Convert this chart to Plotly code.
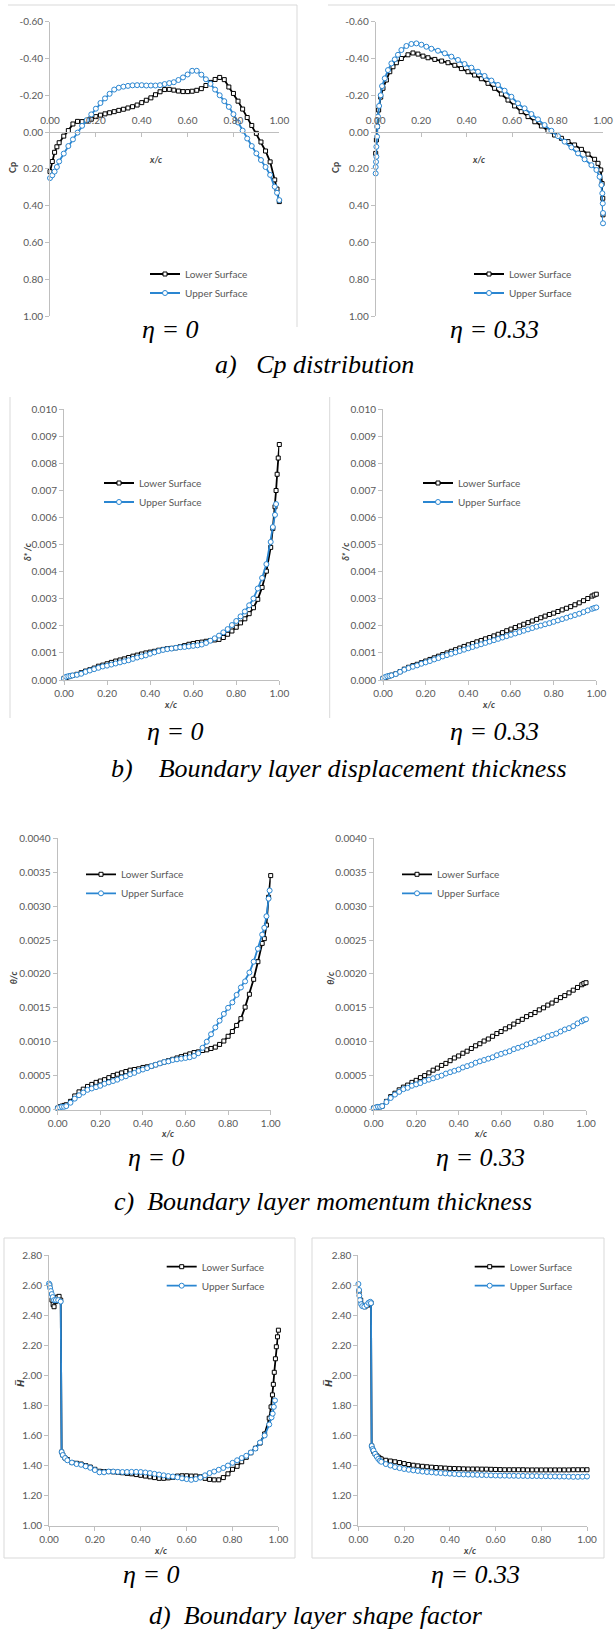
import plotly.graph_objects as go

W, H = 615, 1632

# ---------------- data ----------------
X_GRID = [0.00, 0.01, 0.02, 0.03, 0.04, 0.06, 0.08, 0.10, 0.12, 0.14,
          0.16, 0.18, 0.20, 0.22, 0.24, 0.26, 0.28, 0.30, 0.32, 0.34,
          0.36, 0.38, 0.40, 0.42, 0.44, 0.46, 0.48, 0.50, 0.52, 0.54,
          0.56, 0.58, 0.60, 0.62, 0.64, 0.66, 0.68, 0.70, 0.72, 0.74,
          0.76, 0.78, 0.80, 0.82, 0.84, 0.86, 0.88, 0.90, 0.92, 0.94,
          0.96, 0.98, 0.99, 1.00]
X_TO_096 = X_GRID[:51]
X_MID = X_GRID[7:51]            # 0.10 ... 0.96
X_MID_FULL = X_GRID[7:52] + [1.00]  # 0.10 ... 0.98, 1.00

X_TICKS = [0.0, 0.2, 0.4, 0.6, 0.8, 1.0]
X_TICK_TEXT = ["0.00", "0.20", "0.40", "0.60", "0.80", "1.00"]
CP_TICKS = [-0.6, -0.4, -0.2, 0.0, 0.2, 0.4, 0.6, 0.8, 1.0]
CP_TICK_TEXT = ["-0.60", "-0.40", "-0.20", "0.00", "0.20", "0.40", "0.60", "0.80", "1.00"]
DS_TICKS = [0.000, 0.001, 0.002, 0.003, 0.004, 0.005, 0.006, 0.007, 0.008, 0.009, 0.010]
DS_TICK_TEXT = ["0.000", "0.001", "0.002", "0.003", "0.004", "0.005", "0.006", "0.007", "0.008", "0.009", "0.010"]
TH_TICKS = [0.0, 0.0005, 0.0010, 0.0015, 0.0020, 0.0025, 0.0030, 0.0035, 0.0040]
TH_TICK_TEXT = ["0.0000", "0.0005", "0.0010", "0.0015", "0.0020", "0.0025", "0.0030", "0.0035", "0.0040"]
HF_TICKS = [1.0, 1.2, 1.4, 1.6, 1.8, 2.0, 2.2, 2.4, 2.6, 2.8]
HF_TICK_TEXT = ["1.00", "1.20", "1.40", "1.60", "1.80", "2.00", "2.20", "2.40", "2.60", "2.80"]

# a) Cp, eta = 0
cp0_lower = [0.215, 0.16, 0.11, 0.08, 0.058, 0.022, -0.008, -0.044, -0.058, -0.057,
             -0.06, -0.07, -0.084, -0.092, -0.099, -0.105, -0.111, -0.118, -0.124, -0.131,
             -0.138, -0.147, -0.16, -0.173, -0.186, -0.203, -0.219, -0.231, -0.232, -0.228,
             -0.223, -0.22, -0.22, -0.222, -0.227, -0.236, -0.253, -0.27, -0.286, -0.297,
             -0.285, -0.245, -0.21, -0.168, -0.125, -0.079, -0.036, 0.007, 0.054, 0.103,
             0.162, 0.26, 0.31, 0.378]
cp0_upper = [0.25, 0.235, 0.215, 0.19, 0.16, 0.117, 0.076, 0.04, 0.003, -0.034,
             -0.065, -0.096, -0.127, -0.158, -0.183, -0.208, -0.231, -0.241, -0.247, -0.251,
             -0.254, -0.255, -0.255, -0.253, -0.253, -0.253, -0.255, -0.261, -0.266, -0.271,
             -0.283, -0.297, -0.313, -0.333, -0.333, -0.312, -0.287, -0.262, -0.231, -0.2,
             -0.168, -0.137, -0.097, -0.052, -0.008, 0.035, 0.076, 0.116, 0.152, 0.19,
             0.233, 0.297, 0.33, 0.37]

# a) Cp, eta = 0.33
cp33_lower_x = [0.0, 0.003, 0.007, 0.013, 0.022, 0.032, 0.047, 0.062, 0.076, 0.091,
                0.113, 0.142, 0.164, 0.186, 0.208, 0.23, 0.26, 0.29, 0.318, 0.348,
                0.377, 0.406, 0.435, 0.465, 0.494, 0.523, 0.553, 0.582, 0.611, 0.64,
                0.67, 0.70, 0.729, 0.758, 0.787, 0.817, 0.846, 0.875, 0.905, 0.934,
                0.963, 0.978, 0.99, 0.996, 0.999, 1.0]
cp33_lower = [0.116, 0.043, -0.03, -0.12, -0.19, -0.238, -0.283, -0.328, -0.355, -0.377,
              -0.40, -0.42, -0.43, -0.424, -0.413, -0.404, -0.395, -0.386, -0.377, -0.363,
              -0.345, -0.328, -0.31, -0.29, -0.265, -0.238, -0.207, -0.174, -0.142, -0.111,
              -0.084, -0.056, -0.033, -0.007, 0.016, 0.034, 0.052, 0.07, 0.094, 0.12,
              0.148, 0.17, 0.206, 0.28, 0.36, 0.45]
cp33_upper_x = [0.0, 0.0, 0.0015, 0.003, 0.003, 0.006, 0.007, 0.010, 0.015, 0.022,
                0.028, 0.040, 0.054, 0.069, 0.084, 0.098, 0.113, 0.135, 0.157, 0.179,
                0.201, 0.223, 0.245, 0.274, 0.304, 0.333, 0.362, 0.391, 0.421, 0.45,
                0.479, 0.509, 0.538, 0.567, 0.597, 0.626, 0.655, 0.685, 0.714, 0.743,
                0.773, 0.802, 0.831, 0.861, 0.89, 0.919, 0.949, 0.971, 0.985, 0.993,
                0.997, 0.999, 1.0, 1.0]
cp33_upper = [0.225, 0.19, 0.162, 0.134, 0.08, 0.025, -0.03, -0.084, -0.142, -0.20,
              -0.25, -0.292, -0.337, -0.373, -0.395, -0.42, -0.446, -0.468, -0.479, -0.482,
              -0.475, -0.464, -0.453, -0.442, -0.428, -0.41, -0.392, -0.37, -0.35, -0.328,
              -0.305, -0.28, -0.256, -0.225, -0.192, -0.156, -0.129, -0.098, -0.069, -0.038,
              -0.007, 0.022, 0.052, 0.083, 0.116, 0.148, 0.18, 0.206, 0.243, 0.288,
              0.333, 0.388, 0.44, 0.496]

# b) displacement thickness, eta = 0
ds0_lower_x = X_TO_096 + [0.97, 0.98, 0.985, 0.99, 0.995, 1.00]
ds0_lower = [0.00006, 0.00009, 0.00012, 0.00015, 0.00017, 0.00021, 0.00027, 0.00033, 0.00038, 0.00044,
             0.00051, 0.00055, 0.00060, 0.00065, 0.00070, 0.00074, 0.00078, 0.00083, 0.00088, 0.00092,
             0.00096, 0.00100, 0.00103, 0.00106, 0.00110, 0.00113, 0.00116, 0.00117, 0.00119, 0.00123,
             0.00127, 0.00132, 0.00135, 0.00138, 0.00140, 0.00143, 0.00146, 0.00148, 0.00150, 0.00157,
             0.00169, 0.00181, 0.00195, 0.00211, 0.00226, 0.00245, 0.00267, 0.00298, 0.00342, 0.00402,
             0.00490, 0.0056, 0.0064, 0.0070, 0.0076, 0.0082, 0.0087]
ds0_upper_x = X_TO_096 + [0.97, 0.98, 0.985]
ds0_upper = [0.00006, 0.00012, 0.00014, 0.00015, 0.00017, 0.00019, 0.00023, 0.00030, 0.00035, 0.00040,
             0.00045, 0.00050, 0.00053, 0.00057, 0.00061, 0.00065, 0.00069, 0.00073, 0.00078, 0.00083,
             0.00087, 0.00091, 0.00097, 0.00102, 0.00107, 0.00111, 0.00114, 0.00116, 0.00119, 0.00121,
             0.00122, 0.00124, 0.00126, 0.00128, 0.00131, 0.00137, 0.00145, 0.00154, 0.00164, 0.00176,
             0.00188, 0.00203, 0.00218, 0.00235, 0.00253, 0.00276, 0.00301, 0.00338, 0.00377, 0.00428,
             0.00510, 0.00565, 0.0061, 0.0065]

# b) displacement thickness, eta = 0.33
ds33_lower = [0.00006, 0.00009, 0.00012, 0.00015, 0.00018, 0.00023, 0.00031, 0.00040, 0.00047, 0.00053,
              0.00058, 0.00064, 0.00070, 0.00076, 0.00082, 0.00088, 0.00094, 0.00100, 0.00106, 0.00112,
              0.00118, 0.00124, 0.00130, 0.00135, 0.00141, 0.00146, 0.00152, 0.00157, 0.00163, 0.00169,
              0.00175, 0.00182, 0.00188, 0.00194, 0.00200, 0.00206, 0.00212, 0.00218, 0.00224, 0.00230,
              0.00236, 0.00242, 0.00247, 0.00253, 0.00259, 0.00265, 0.00271, 0.00278, 0.00285, 0.00293,
              0.00301, 0.00310, 0.00314, 0.00317]
ds33_upper = [0.00006, 0.00011, 0.00014, 0.00015, 0.00017, 0.00022, 0.00030, 0.00038, 0.00044, 0.00049,
              0.00054, 0.00060, 0.00065, 0.00070, 0.00076, 0.00081, 0.00087, 0.00092, 0.00097, 0.00102,
              0.00107, 0.00112, 0.00117, 0.00122, 0.00127, 0.00132, 0.00137, 0.00142, 0.00147, 0.00152,
              0.00157, 0.00162, 0.00167, 0.00172, 0.00177, 0.00182, 0.00187, 0.00192, 0.00197, 0.00201,
              0.00206, 0.00210, 0.00215, 0.00220, 0.00225, 0.00230, 0.00235, 0.00240, 0.00245, 0.00251,
              0.00257, 0.00263, 0.00266, 0.00268]

# c) momentum thickness, eta = 0
th0_lower_x = X_TO_096 + [0.97, 0.98, 0.99, 1.00]
th0_lower = [0.00002, 0.00004, 0.00005, 0.00006, 0.00007, 0.00012, 0.00020, 0.00026, 0.00030, 0.00034,
             0.00037, 0.00040, 0.00042, 0.00044, 0.00047, 0.00050, 0.00052, 0.00054, 0.00056, 0.00058,
             0.00059, 0.00060, 0.00062, 0.00063, 0.00064, 0.00066, 0.00068, 0.00070, 0.00072, 0.00074,
             0.00076, 0.00078, 0.00080, 0.00082, 0.00084, 0.00085, 0.00087, 0.00088, 0.00090, 0.00092,
             0.00096, 0.00101, 0.00108, 0.00115, 0.00124, 0.00134, 0.00151, 0.00170, 0.00192, 0.00218,
             0.00245, 0.00252, 0.00272, 0.00313, 0.00345]
th0_upper_x = X_TO_096 + [0.97, 0.98, 0.99, 0.995]
th0_upper = [0.00002, 0.00003, 0.00004, 0.00004, 0.00005, 0.00010, 0.00016, 0.00021, 0.00025, 0.00029,
             0.00031, 0.00033, 0.00035, 0.00038, 0.00040, 0.00042, 0.00044, 0.00047, 0.00049, 0.00052,
             0.00054, 0.00057, 0.00059, 0.00061, 0.00064, 0.00066, 0.00068, 0.00070, 0.00071, 0.00073,
             0.00074, 0.00075, 0.00076, 0.00077, 0.00079, 0.00083, 0.00091, 0.00100, 0.00111, 0.00121,
             0.00131, 0.00141, 0.00150, 0.00158, 0.00169, 0.00180, 0.00189, 0.00202, 0.00218, 0.00237,
             0.00258, 0.00268, 0.00285, 0.00311, 0.00323]

# c) momentum thickness, eta = 0.33
th33_lower = [0.00002, 0.00003, 0.00004, 0.00004, 0.00005, 0.00012, 0.00019, 0.00024, 0.00029, 0.00033,
              0.00036, 0.00040, 0.00043, 0.00047, 0.00050, 0.00054, 0.00058, 0.00061, 0.00065, 0.00068,
              0.00072, 0.00076, 0.00079, 0.00083, 0.00086, 0.00090, 0.00094, 0.00097, 0.00101, 0.00104,
              0.00108, 0.00112, 0.00115, 0.00119, 0.00122, 0.00126, 0.00130, 0.00133, 0.00137, 0.00140,
              0.00143, 0.00147, 0.00150, 0.00154, 0.00157, 0.00161, 0.00165, 0.00168, 0.00172, 0.00176,
              0.00180, 0.00184, 0.00186, 0.00187]
th33_upper = [0.00002, 0.00003, 0.00004, 0.00004, 0.00005, 0.00011, 0.00017, 0.00022, 0.00026, 0.00030,
              0.00032, 0.00035, 0.00037, 0.00039, 0.00042, 0.00044, 0.00046, 0.00048, 0.00050, 0.00053,
              0.00055, 0.00057, 0.00059, 0.00062, 0.00064, 0.00066, 0.00069, 0.00071, 0.00073, 0.00075,
              0.00077, 0.00080, 0.00082, 0.00084, 0.00086, 0.00089, 0.00091, 0.00093, 0.00096, 0.00098,
              0.00100, 0.00103, 0.00105, 0.00108, 0.00110, 0.00112, 0.00115, 0.00118, 0.00120, 0.00123,
              0.00127, 0.00130, 0.00132, 0.00133]

# d) shape factor, eta = 0
hf0_lower_x = [0.003, 0.008, 0.013, 0.018, 0.022, 0.028, 0.036, 0.044, 0.051, 0.055, 0.06, 0.07, 0.08] \
    + X_MID + [0.968, 0.974, 0.978, 0.982, 0.987, 0.991, 0.996, 1.0]
hf0_lower = [2.6, 2.55, 2.5, 2.47, 2.456, 2.49, 2.52, 2.525, 2.5, 1.49, 1.47, 1.45, 1.44,
             1.42, 1.415, 1.41, 1.40, 1.39, 1.375, 1.362, 1.36, 1.36, 1.358,
             1.355, 1.352, 1.348, 1.345, 1.34, 1.335, 1.33, 1.325, 1.32, 1.315,
             1.315, 1.318, 1.322, 1.33, 1.332, 1.332, 1.33, 1.33, 1.325, 1.315,
             1.308, 1.305, 1.305, 1.32, 1.345, 1.375, 1.395, 1.425, 1.455, 1.485,
             1.515, 1.55, 1.61, 1.715,
             1.79, 1.87, 1.94, 2.02, 2.11, 2.19, 2.256, 2.30]
hf0_upper_x = [0.0, 0.002, 0.005, 0.008, 0.012, 0.016, 0.022, 0.03, 0.04, 0.051, 0.055, 0.06, 0.07, 0.08] \
    + X_MID + [0.97, 0.975, 0.98, 0.985]
hf0_upper = [2.61, 2.6, 2.58, 2.56, 2.54, 2.52, 2.5, 2.5, 2.5, 2.49, 1.49, 1.47, 1.45, 1.435,
             1.42, 1.41, 1.405, 1.395, 1.385, 1.37, 1.355, 1.355, 1.36, 1.36,
             1.358, 1.357, 1.357, 1.358, 1.358, 1.357, 1.354, 1.35, 1.345, 1.34,
             1.335, 1.33, 1.327, 1.322, 1.315, 1.31, 1.305, 1.31, 1.32, 1.335,
             1.35, 1.36, 1.372, 1.384, 1.40, 1.418, 1.435, 1.45, 1.465, 1.487,
             1.513, 1.553, 1.60, 1.673,
             1.72, 1.745, 1.79, 1.833]

# d) shape factor, eta = 0.33
hf33_lower_x = [0.003, 0.010, 0.017, 0.029, 0.041, 0.051, 0.055, 0.058, 0.062, 0.066, 0.073, 0.08, 0.087, 0.094] \
    + X_MID_FULL
hf33_lower = [2.556, 2.5, 2.467, 2.456, 2.467, 2.482, 2.482, 1.53, 1.51, 1.495, 1.478, 1.465, 1.456, 1.448,
              1.444, 1.435, 1.43, 1.425, 1.42, 1.413, 1.407, 1.402, 1.398, 1.395,
              1.392, 1.389, 1.387, 1.385, 1.383, 1.381, 1.38, 1.379, 1.378, 1.377,
              1.377, 1.377, 1.376, 1.376, 1.375, 1.374, 1.373, 1.372, 1.372, 1.372,
              1.372, 1.372, 1.371, 1.371, 1.371, 1.371, 1.371, 1.371, 1.371, 1.371,
              1.371, 1.371, 1.372, 1.372, 1.372, 1.372]
hf33_upper_x = [0.0, 0.003, 0.004, 0.007, 0.012, 0.017, 0.026, 0.036, 0.044, 0.052, 0.055,
                0.058, 0.062, 0.066, 0.073, 0.08, 0.087, 0.094] + X_MID_FULL
hf33_upper = [2.607, 2.567, 2.53, 2.5, 2.473, 2.46, 2.456, 2.467, 2.482, 2.489, 2.48,
              1.53, 1.51, 1.5, 1.478, 1.46, 1.444, 1.432,
              1.425, 1.41, 1.40, 1.39, 1.383, 1.377, 1.372, 1.368, 1.364, 1.36,
              1.357, 1.355, 1.352, 1.35, 1.348, 1.346, 1.344, 1.342, 1.341, 1.34,
              1.339, 1.338, 1.337, 1.336, 1.335, 1.334, 1.333, 1.333, 1.332, 1.332,
              1.331, 1.331, 1.33, 1.33, 1.33, 1.329, 1.329, 1.328, 1.328, 1.327,
              1.327, 1.326, 1.325, 1.325, 1.326, 1.327]

SERIES_NAMES = ["Lower Surface", "Upper Surface"]

# ---------------- layout helpers ----------------
def px(v):
    return v / W


def py(v):
    return 1 - v / H


AX = "#BFBFBF"
TICKFONT = dict(family="Lato, Carlito, Calibri, sans-serif", size=10, color="#595959")
LEGFONT = dict(family="Lato, Carlito, Calibri, sans-serif", size=10, color="#595959")
TITLEFONT = dict(family="Lato, Carlito, Calibri, sans-serif", size=9, color="#404040")
SERIF = dict(family="Liberation Serif, Times New Roman, serif", size=26, color="#000000")

LOWER_STYLE = dict(mode="lines+markers", line=dict(color="#000000", width=1.8),
                   marker=dict(symbol="square", size=4, color="#FFFFFF",
                               line=dict(color="#000000", width=1)))
UPPER_STYLE = dict(mode="lines+markers", line=dict(color="#2A86D1", width=1.8),
                   marker=dict(symbol="circle", size=5, color="#FFFFFF",
                               line=dict(color="#2A86D1", width=1)))

# pixel geometry of each panel: x0/x1 = pixel of x=0 / x=1; yt/yb = pixel of top/bottom of range
panels = [
    dict(x0=50, x1=279.3, yt=21.7, yb=316, rng=[1.0, -0.6], tv=CP_TICKS, tt=CP_TICK_TEXT,
         lx=X_GRID, ly=cp0_lower, ux=X_GRID, uy=cp0_upper, leg=(185, 274), cp=True),
    dict(x0=375.7, x1=603, yt=21.7, yb=316, rng=[1.0, -0.6], tv=CP_TICKS, tt=CP_TICK_TEXT,
         lx=cp33_lower_x, ly=cp33_lower, ux=cp33_upper_x, uy=cp33_upper, leg=(509, 274), cp=True),
    dict(x0=64, x1=279.3, yt=409.3, yb=680, rng=[0, 0.010], tv=DS_TICKS, tt=DS_TICK_TEXT,
         lx=ds0_lower_x, ly=ds0_lower, ux=ds0_upper_x, uy=ds0_upper, leg=(139, 483)),
    dict(x0=383, x1=596.3, yt=409.3, yb=680, rng=[0, 0.010], tv=DS_TICKS, tt=DS_TICK_TEXT,
         lx=X_GRID, ly=ds33_lower, ux=X_GRID, uy=ds33_upper, leg=(458, 483)),
    dict(x0=57.7, x1=270.7, yt=838.3, yb=1109.5, rng=[0, 0.004], tv=TH_TICKS, tt=TH_TICK_TEXT,
         lx=th0_lower_x, ly=th0_lower, ux=th0_upper_x, uy=th0_upper, leg=(121, 874.3)),
    dict(x0=373.7, x1=586, yt=838.3, yb=1109.5, rng=[0, 0.004], tv=TH_TICKS, tt=TH_TICK_TEXT,
         lx=X_GRID, ly=th33_lower, ux=X_GRID, uy=th33_upper, leg=(437, 874.3)),
    dict(x0=49, x1=278.4, yt=1255, yb=1525.7, rng=[1.0, 2.8], tv=HF_TICKS, tt=HF_TICK_TEXT,
         lx=hf0_lower_x, ly=hf0_lower, ux=hf0_upper_x, uy=hf0_upper, leg=(201.7, 1266.7)),
    dict(x0=358.4, x1=587, yt=1255, yb=1525.7, rng=[1.0, 2.8], tv=HF_TICKS, tt=HF_TICK_TEXT,
         lx=hf33_lower_x, ly=hf33_lower, ux=hf33_upper_x, uy=hf33_upper, leg=(509.7, 1266.7)),
]

fig = go.Figure()
layout = {}
for i, p in enumerate(panels, start=1):
    sfx = "" if i == 1 else str(i)
    xa, ya, lg = "x" + sfx, "y" + sfx, "legend" + sfx
    fig.add_trace(go.Scatter(x=p["lx"], y=p["ly"], name=SERIES_NAMES[0], xaxis=xa, yaxis=ya,
                             legend=lg, cliponaxis=False, **LOWER_STYLE))
    fig.add_trace(go.Scatter(x=p["ux"], y=p["uy"], name=SERIES_NAMES[1], xaxis=xa, yaxis=ya,
                             legend=lg, cliponaxis=False, **UPPER_STYLE))
    xaxis = dict(domain=[px(p["x0"]), px(p["x1"])], range=[0, 1], showline=True, linecolor=AX,
                 linewidth=1, ticks="outside", ticklen=4, tickcolor=AX, tickwidth=1,
                 tickvals=X_TICKS, ticktext=X_TICK_TEXT, tickfont=TICKFONT,
                 showgrid=False, zeroline=False, fixedrange=True, anchor=ya)
    if p.get("cp"):
        r0, r1 = p["rng"]
        zero_px = p["yb"] + (0 - r0) / (r1 - r0) * (p["yt"] - p["yb"])
        xaxis.update(anchor="free", position=py(zero_px), side="top", ticks="inside",
                     ticklabelstandoff=4)
    yaxis = dict(domain=[py(p["yb"]), py(p["yt"])], range=p["rng"], anchor=xa, showline=True,
                 linecolor=AX, linewidth=1, ticks="outside", ticklen=4, tickcolor=AX, tickwidth=1,
                 tickvals=p["tv"], ticktext=p["tt"], tickfont=TICKFONT, showgrid=False,
                 zeroline=False, fixedrange=True)
    layout["xaxis" + sfx] = xaxis
    layout["yaxis" + sfx] = yaxis
    tx, ty = p["leg"]
    layout[lg] = dict(x=px(tx - 40), y=py(ty - 14.5), xanchor="left", yanchor="top",
                      bgcolor="rgba(0,0,0,0)", borderwidth=0, font=LEGFONT, itemwidth=30,
                      tracegroupgap=0)

annotations = []
axis_titles = [
    ("<b>Cp</b>", 13, 168, -90), ("<b>Cp</b>", 336, 168, -90),
    ("<b><i>x/c</i></b>", 155, 160, 0), ("<b><i>x/c</i></b>", 478, 160, 0),
    ("<b><i>δ* /c</i></b>", 27, 552, -90), ("<b><i>δ* /c</i></b>", 344.7, 552, -90),
    ("<b><i>x/c</i></b>", 170, 704, 0), ("<b><i>x/c</i></b>", 488, 704, 0),
    ("<b><i>θ/c</i></b>", 13.3, 978, -90), ("<b><i>θ/c</i></b>", 329.7, 978, -90),
    ("<b><i>x/c</i></b>", 167, 1133, 0), ("<b><i>x/c</i></b>", 480, 1133, 0),
    ("<b><i>H\u0305</i></b>", 20, 1383, -90), ("<b><i>H\u0305</i></b>", 328, 1383, -90),
    ("<b><i>x/c</i></b>", 160, 1550.7, 0), ("<b><i>x/c</i></b>", 469, 1550.7, 0),
]
for t, x, y, ang in axis_titles:
    f = dict(TITLEFONT)
    if "H" in t:
        f["family"] = "DejaVu Sans, sans-serif"
    annotations.append(dict(text=t, x=px(x), y=py(y), xref="paper", yref="paper",
                            xanchor="center", yanchor="middle", showarrow=False,
                            textangle=ang, font=f))

NB = "\u00a0"
captions = [
    ("η = 0", 170, 333), ("η = 0.33", 494, 333), ("a)" + NB * 3 + "Cp distribution", 314, 367),
    ("η = 0", 174.5, 735), ("η = 0.33", 494, 735),
    ("b)" + NB * 4 + "Boundary layer displacement thickness", 339, 771),
    ("η = 0", 156, 1160), ("η = 0.33", 480, 1160),
    ("c)" + NB * 2 + "Boundary layer momentum thickness", 323, 1204),
    ("η = 0", 151, 1577), ("η = 0.33", 476, 1577),
    ("d)" + NB * 2 + "Boundary layer shape factor", 316, 1618),
]
for t, x, y in captions:
    annotations.append(dict(text="<i>" + t + "</i>", x=px(x), y=py(y - 3), xref="paper",
                            yref="paper", xanchor="center", yanchor="middle",
                            showarrow=False, font=SERIF))

FRAME = dict(color="#D9D9D9", width=1)
frame_lines = [
    (8, 5, 297, 5), (297, 5, 297, 327), (328, 5, 615, 5),
    (10, 397, 10, 718), (329.7, 397, 329.7, 718),
]
shapes = [dict(type="line", xref="paper", yref="paper", x0=px(a), y0=py(b), x1=px(c), y1=py(d),
               line=FRAME, layer="below") for a, b, c, d in frame_lines]
for a, b, c, d in [(4, 1238, 295, 1558), (312, 1238, 604, 1558)]:
    shapes.append(dict(type="rect", xref="paper", yref="paper", x0=px(a), y0=py(d), x1=px(c),
                       y1=py(b), line=FRAME, fillcolor="rgba(0,0,0,0)", layer="below"))

fig.update_layout(
    template="none", width=W, height=H, autosize=False,
    margin=dict(l=0, r=0, t=0, b=0, pad=0),
    paper_bgcolor="#FFFFFF", plot_bgcolor="rgba(0,0,0,0)",
    showlegend=True, annotations=annotations, shapes=shapes, **layout,
)

fig.write_html(
    "out.html",
    config={"displayModeBar": False, "staticPlot": True},
    post_script="document.body.style.margin='0px';document.body.style.padding='0px';"
                "document.documentElement.style.overflow='hidden';document.body.style.overflow='hidden';",
)
